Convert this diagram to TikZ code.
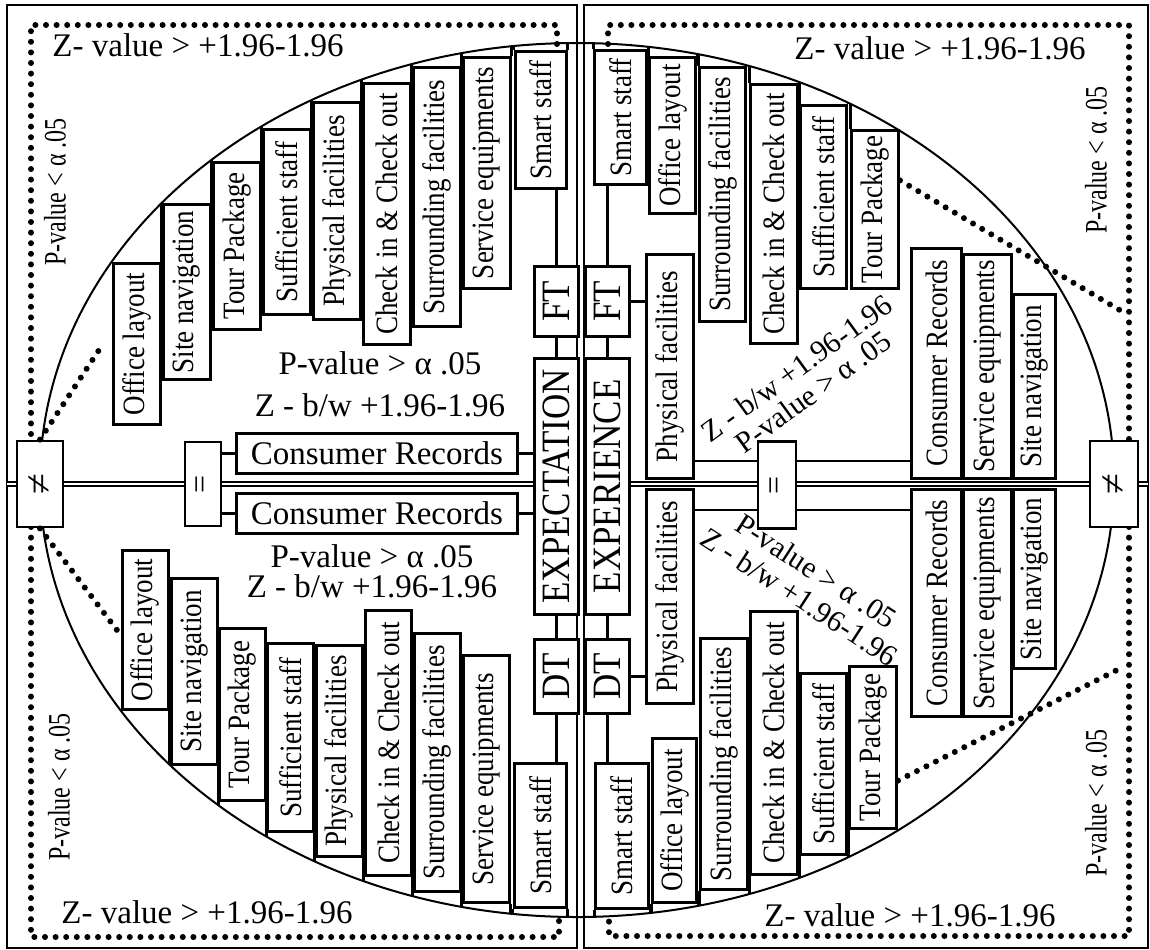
\documentclass[tikz,border=0pt]{standalone}
\usepackage{fontspec}
\setmainfont{Liberation Serif}
\usetikzlibrary{calc}
\newcommand{\vlab}[1]{\rotatebox{90}{\scalebox{1}[1.15]{#1}}}

\begin{document}
\begin{tikzpicture}[
    x=0.5pt, y=-0.5pt,
    facBox/.style={draw, line width=1.4pt, fill=white, inner sep=0pt, minimum width=23.5pt, font=\fontsize{13.5}{15}\selectfont},
    hubBox/.style={draw, line width=1.4pt, fill=white, inner sep=0pt, minimum width=22pt, anchor=north west, font=\fontsize{17.5}{19}\selectfont},
    recBox/.style={draw, line width=1.4pt, fill=white, inner sep=0pt, minimum width=140.5pt, minimum height=20pt, anchor=north west, font=\fontsize{16.5}{18}\selectfont},
    relBox/.style={draw, line width=1.4pt, fill=white, inner sep=0pt, font=\fontsize{19}{21}\selectfont},
    conn/.style={line width=1.3pt},
    capLine/.style={line width=1.4pt},
    axisLine/.style={double, double distance=1pt, line width=1.2pt},
    dotLine/.style={line width=3pt, dash pattern=on 0pt off 5.3pt, line cap=round},
    noteText/.style={font=\fontsize{16.5}{18}\selectfont, inner sep=0pt},
    sideText/.style={font=\fontsize{12}{14}\selectfont, inner sep=0pt}
]
\useasboundingbox (0,0) rectangle (1150,949);

% panels and ellipse
\draw[line width=1.4pt] (7,5) rectangle (577,948);
\draw[line width=1.4pt] (584,5) rectangle (1148,948);
\draw[line width=1pt] (577,480) ellipse [x radius=537, y radius=437];
\coordinate (edgeL) at (7,484);
\coordinate (edgeR) at (1148,484);

% dotted regions
\draw[dotLine] (557,44) -- (557,25) -- (31,25) -- (31,441);
\draw[dotLine] (31,527) -- (31,937) -- (559,937) -- (559,916);
\draw[dotLine] (608,44) -- (608,25) -- (1129,25) -- (1129,441);
\draw[dotLine] (1129,527) -- (1129,936) -- (609,936) -- (609,916);

% outside notes
\node[noteText] (zUL) at (198,45) {Z- value > +1.96-1.96};
\node[noteText] (zUR) at (940,48) {Z- value > +1.96-1.96};
\node[noteText] (zLL) at (207,912) {Z- value > +1.96-1.96};
\node[noteText] (zLR) at (910,915) {Z- value > +1.96-1.96};
\node[sideText] (pUL) at (55,192) {\rotatebox{90}{\scalebox{1}[1.3]{P-value < α .05}}};
\node[sideText] (pUR) at (1096,160) {\rotatebox{90}{\scalebox{1}[1.3]{P-value < α .05}}};
\node[sideText] (pLL) at (59,787) {\rotatebox{90}{\scalebox{1}[1.3]{P-value < α .05}}};
\node[sideText] (pLR) at (1096,803) {\rotatebox{90}{\scalebox{1}[1.3]{P-value < α .05}}};

% inside notes
\node[noteText, align=center, font=\fontsize{16.5}{21}\selectfont] (nUL) at (380,384) {P-value > α .05\\Z - b/w +1.96-1.96};
\node[noteText, align=center, font=\fontsize{16.5}{15}\selectfont] (nLL) at (372,571) {P-value > α .05\\Z - b/w +1.96-1.96};
\node[noteText, align=center, rotate=36, font=\fontsize{15}{14.5}\selectfont] (nUR) at (805,380) {Z - b/w +1.96-1.96\\P-value > α .05};
\node[noteText, align=center, rotate=-33, font=\fontsize{15}{15.5}\selectfont] (nLR) at (808,584) {P-value > α .05\\Z - b/w +1.96-1.96};

% upper left quadrant
\node[facBox, anchor=north west, minimum height=80.5pt] (ulOffice) at (112,262) {\vlab{Office layout}};
\node[facBox, anchor=north west, minimum height=87.5pt] (ulSite) at (162,203) {\vlab{Site navigation}};
\node[facBox, anchor=north west, minimum height=83.5pt] (ulTour) at (212,161) {\vlab{Tour Package}};
\node[facBox, anchor=north west, minimum height=92.5pt] (ulSuff) at (262,128) {\vlab{Sufficient staff}};
\node[facBox, anchor=north west, minimum height=108.5pt] (ulPhys) at (312,101) {\vlab{Physical facilities}};
\node[facBox, anchor=north west, minimum height=130.5pt] (ulCheck) at (362,82) {\vlab{Check in \& Check out}};
\node[facBox, anchor=north west, minimum height=129.5pt] (ulSurr) at (412,66) {\vlab{Surrounding facilities}};
\node[facBox, anchor=north west, minimum height=115.5pt] (ulServ) at (462,56) {\vlab{Service equipments}};
\node[facBox, anchor=north west, minimum width=25.5pt, minimum height=68.5pt] (ulSmart) at (514,50) {\vlab{Smart staff}};

% lower left quadrant
\node[facBox, anchor=south west, minimum width=23pt, minimum height=79.5pt] (llOffice) at (121,711) {\vlab{Office layout}};
\node[facBox, anchor=south west, minimum width=23pt, minimum height=93pt] (llSite) at (170,766) {\vlab{Site navigation}};
\node[facBox, anchor=south west, minimum width=23pt, minimum height=86pt] (llTour) at (218,802) {\vlab{Tour Package}};
\node[facBox, anchor=south west, minimum width=23pt, minimum height=94pt] (llSuff) at (266,833) {\vlab{Sufficient staff}};
\node[facBox, anchor=south west, minimum width=23pt, minimum height=105.5pt] (llPhys) at (315,858) {\vlab{Physical facilities}};
\node[facBox, anchor=south west, minimum width=23pt, minimum height=132.5pt] (llCheck) at (364,877) {\vlab{Check in \& Check out}};
\node[facBox, anchor=south west, minimum width=23pt, minimum height=129pt] (llSurr) at (413,893) {\vlab{Surrounding facilities}};
\node[facBox, anchor=south west, minimum width=23pt, minimum height=123.5pt] (llServ) at (462,904) {\vlab{Service equipments}};
\node[facBox, anchor=south west, minimum width=26pt, minimum height=72pt] (llSmart) at (513,909) {\vlab{Smart staff}};

% upper right quadrant
\node[facBox, anchor=north east, minimum width=26pt, minimum height=67pt] (urSmart) at (648,49) {\vlab{Smart staff}};
\node[facBox, anchor=north east, minimum width=23pt, minimum height=78pt] (urOffice) at (697,56) {\vlab{Office layout}};
\node[facBox, anchor=north east, minimum width=23pt, minimum height=127pt] (urSurr) at (747,66) {\vlab{Surrounding facilities}};
\node[facBox, anchor=north east, minimum height=129.5pt] (urCheck) at (799,83) {\vlab{Check in \& Check out}};
\node[facBox, anchor=north east, minimum width=23pt, minimum height=91.5pt] (urSuff) at (848,104) {\vlab{Sufficient staff}};
\node[facBox, anchor=north east, minimum height=79pt] (urTour) at (900,129) {\vlab{Tour Package}};

% right middle
\node[facBox, anchor=north west, minimum height=112pt] (rPhysUp) at (645,253) {\vlab{Physical facilities}};
\node[facBox, anchor=north west, minimum width=25pt, minimum height=115pt] (rConsUp) at (910,247) {\vlab{Consumer Records}};
\node[facBox, anchor=north west, minimum width=24pt, minimum height=112pt] (rServUp) at (962,253) {\vlab{Service equipments}};
\node[facBox, anchor=north west, minimum width=21pt, minimum height=92pt] (rSiteUp) at (1012,293) {\vlab{Site navigation}};
\node[facBox, anchor=north west, minimum height=107pt] (rPhysLo) at (645,488) {\vlab{Physical facilities}};
\node[facBox, anchor=north west, minimum width=25pt, minimum height=113.5pt] (rConsLo) at (910,488) {\vlab{Consumer Records}};
\node[facBox, anchor=north west, minimum width=24pt, minimum height=113.5pt] (rServLo) at (962,488) {\vlab{Service equipments}};
\node[facBox, anchor=north west, minimum width=21pt, minimum height=89.5pt] (rSiteLo) at (1012,488) {\vlab{Site navigation}};

% lower right quadrant
\node[facBox, anchor=south east, minimum width=26.5pt, minimum height=72.5pt] (lrSmart) at (650,910) {\vlab{Smart staff}};
\node[facBox, anchor=south east, minimum width=22pt, minimum height=82pt] (lrOffice) at (698,904) {\vlab{Office layout}};
\node[facBox, anchor=south east, minimum height=125.5pt] (lrSurr) at (749,891) {\vlab{Surrounding facilities}};
\node[facBox, anchor=south east, minimum height=131.5pt] (lrCheck) at (799,876) {\vlab{Check in \& Check out}};
\node[facBox, anchor=south east, minimum width=23pt, minimum height=90.5pt] (lrSuff) at (848,856) {\vlab{Sufficient staff}};
\node[facBox, anchor=south east, minimum height=81pt] (lrTour) at (898,830) {\vlab{Tour Package}};

% box sides run on to the ellipse
\begin{scope}
  \clip (577,480) ellipse [x radius=537, y radius=437];
  \draw[capLine] (ulOffice.north east) -- ++(0,-90) (ulSite.north west) -- ++(0,-90) (ulSite.north east) -- ++(0,-90)
    (ulTour.north west) -- ++(0,-90) (ulTour.north east) -- ++(0,-90) (ulSuff.north west) -- ++(0,-90)
    (ulSuff.north east) -- ++(0,-90) (ulPhys.north west) -- ++(0,-90) (ulPhys.north east) -- ++(0,-90)
    (ulCheck.north west) -- ++(0,-90) (ulCheck.north east) -- ++(0,-90) (ulSurr.north west) -- ++(0,-90)
    (ulSurr.north east) -- ++(0,-90) (ulServ.north west) -- ++(0,-90) (ulServ.north east) -- ++(0,-90)
    (ulSmart.north west) -- ++(0,-90) (ulSmart.north east) -- ++(0,-90);
  \draw[capLine] (llOffice.south east) -- ++(0,90) (llSite.south west) -- ++(0,90) (llSite.south east) -- ++(0,90)
    (llTour.south west) -- ++(0,90) (llTour.south east) -- ++(0,90) (llSuff.south west) -- ++(0,90)
    (llSuff.south east) -- ++(0,90) (llPhys.south west) -- ++(0,90) (llPhys.south east) -- ++(0,90)
    (llCheck.south west) -- ++(0,90) (llCheck.south east) -- ++(0,90) (llSurr.south west) -- ++(0,90)
    (llSurr.south east) -- ++(0,90) (llServ.south west) -- ++(0,90) (llServ.south east) -- ++(0,90)
    (llSmart.south west) -- ++(0,90) (llSmart.south east) -- ++(0,90);
  \draw[capLine] (urSmart.north west) -- ++(0,-90) (urSmart.north east) -- ++(0,-90) (urOffice.north west) -- ++(0,-90)
    (urOffice.north east) -- ++(0,-90) (urSurr.north west) -- ++(0,-90) (urSurr.north east) -- ++(0,-90)
    (urCheck.north west) -- ++(0,-90) (urCheck.north east) -- ++(0,-90) (urSuff.north west) -- ++(0,-90)
    (urSuff.north east) -- ++(0,-90) (urTour.north west) -- ++(0,-90);
  \draw[capLine] (lrSmart.south west) -- ++(0,90) (lrSmart.south east) -- ++(0,90) (lrOffice.south west) -- ++(0,90)
    (lrOffice.south east) -- ++(0,90) (lrSurr.south west) -- ++(0,90) (lrSurr.south east) -- ++(0,90)
    (lrCheck.south west) -- ++(0,90) (lrCheck.south east) -- ++(0,90) (lrSuff.south west) -- ++(0,90)
    (lrSuff.south east) -- ++(0,90) (lrTour.south west) -- ++(0,90);
\end{scope}

% centre column
\node[hubBox, minimum height=35pt] (ftL) at (533,265) {\vlab{FT}};
\node[hubBox, minimum height=35pt] (ftR) at (584,265) {\vlab{FT}};
\node[hubBox, minimum height=128pt] (exL) at (533,357) {\vlab{EXPECTATION}};
\node[hubBox, minimum height=128pt] (erR) at (584,357) {\vlab{EXPERIENCE}};
\node[hubBox, minimum height=37pt] (dtL) at (533,638) {\vlab{DT}};
\node[hubBox, minimum height=37pt] (dtR) at (584,638) {\vlab{DT}};

% records and relation boxes
\node[recBox] (cUp) at (235,432) {Consumer Records};
\node[recBox] (cLo) at (235,492) {Consumer Records};
\node[relBox, minimum width=23pt, minimum height=43pt] (neL) at (40,484) {\rotatebox{90}{≠}};
\node[relBox, minimum width=24pt, minimum height=43pt] (neR) at (1114,484) {\rotatebox{90}{≠}};

% axis lines, drawn under the = boxes
\draw[axisLine] (edgeL) -- (neL.west);
\draw[axisLine] (neL.east) -- (neL.east -| exL.west);
\draw[axisLine] (erR.east |- neR.west) -- (neR.west);
\draw[axisLine] (neR.east) -- (edgeR);
\coordinate (rUpLine) at ($(rPhysUp.south east)+(0,-19)$);
\coordinate (rLoLine) at ($(rPhysLo.north east)+(0,22)$);
\draw[conn] (rUpLine) -- (rUpLine -| rConsUp.west);
\draw[conn] (rLoLine) -- (rLoLine -| rConsLo.west);

\node[relBox, minimum width=18pt, minimum height=42pt, font=\fontsize{16}{18}\selectfont] (eqL) at (203,484) {\rotatebox{90}{=}};
\node[relBox, minimum width=19pt, minimum height=43.5pt, font=\fontsize{16}{18}\selectfont] (eqR) at (777,485) {\rotatebox{90}{=}};

% connectors
\draw[conn] (ftL.north) -- (ftL.north |- ulSmart.south);
\draw[conn] (ftL.south) -- (ftL.south |- exL.north);
\draw[conn] (dtL.north) -- (dtL.north |- exL.south);
\draw[conn] (dtL.south) -- (dtL.south |- llSmart.north);
\draw[conn] (ftR.north) -- (ftR.north |- urSmart.south);
\draw[conn] (ftR.south) -- (ftR.south |- erR.north);
\draw[conn] (dtR.north) -- (dtR.north |- erR.south);
\draw[conn] (dtR.south) -- (dtR.south |- lrSmart.north);
\draw[conn] (ftR.east) -- (ftR.east -| rPhysUp.west);
\draw[conn] (dtR.east) -- (dtR.east -| rPhysLo.west);
\draw[conn] (cUp.east) -- (cUp.east -| exL.west);
\draw[conn] (cLo.east) -- (cLo.east -| exL.west);
\draw[conn] (eqL.east |- cUp.west) -- (cUp.west);
\draw[conn] (eqL.east |- cLo.west) -- (cLo.west);

% dotted diagonals
\coordinate (urEnd) at (1123,312);
\coordinate (lrEnd) at (1121,668);
\draw[dotLine] (neL.north) -- ([xshift=-4.5pt]ulOffice.west);
\draw[dotLine] (neL.south) -- ([xshift=-2pt]llOffice.west);
\draw[dotLine] ([yshift=14.5pt]urTour.east) -- (urEnd);
\draw[dotLine] ([yshift=-16.5pt]lrTour.east) -- (lrEnd);

\end{tikzpicture}
\end{document}
